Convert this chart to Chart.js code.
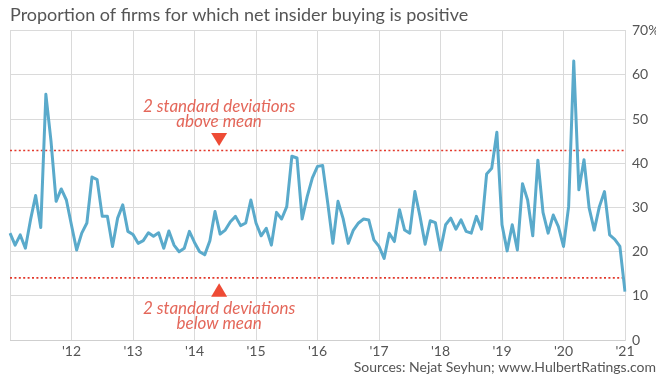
<!DOCTYPE html>
<html>
<head>
<meta charset="utf-8">
<script src="https://cdn.jsdelivr.net/npm/chart.js@4/dist/chart.umd.min.js"></script>
<style>
  body { margin: 0; background: #fff; }
  #wrap { width: 661px; height: 377px; }
</style>
</head>
<body>
<div id="wrap"><canvas id="chart"></canvas></div>
<script>
// monthly share of firms with positive net insider buying, Jan 2011 .. Jan 2021 (%)
const netBuying = [
  24.2, 21.5, 23.8, 20.8, 27.2, 32.7, 25.5, 55.6, 45.0, 31.4, 34.2, 31.7,
  26.0, 20.4, 24.2, 26.5, 36.9, 36.3, 28.0, 28.0, 21.2, 27.6, 30.6, 24.6,
  23.9, 21.9, 22.5, 24.3, 23.5, 24.3, 20.8, 24.7, 21.5, 20.0, 20.8, 24.6,
  22.1, 20.0, 19.3, 22.5, 29.1, 24.0, 24.9, 26.8, 28.0, 25.9, 26.5, 31.7,
  26.5, 23.6, 25.3, 21.5, 28.9, 27.4, 30.2, 41.6, 41.2, 27.4, 32.5, 36.7,
  39.3, 39.5, 31.0, 21.9, 31.4, 27.5, 21.9, 24.9, 26.5, 27.4, 27.2, 22.7,
  21.2, 18.5, 24.2, 22.3, 29.5, 24.9, 24.2, 33.6, 28.0, 21.7, 27.0, 26.6,
  20.4, 26.1, 27.6, 25.1, 27.2, 24.6, 24.2, 28.0, 25.1, 37.6, 38.9, 47.0,
  26.1, 20.2, 26.1, 20.4, 35.4, 31.7, 23.6, 40.7, 28.9, 24.2, 28.3, 25.7,
  21.2, 30.2, 63.1, 34.0, 40.8, 29.9, 24.9, 30.2, 33.6, 23.8, 22.8, 21.2,
  11.0
];

// mean +/- 2 standard deviations
const upperBand = 42.9;
const lowerBand = 14.1;

const yTicks = [0, 10, 20, 30, 40, 50, 60, 70];
const noteMonth = "2014-06";

const firstYear = 2011;
const months = [];
for (let i = 0; i < netBuying.length; i++) {
  const y = firstYear + Math.floor(i / 12);
  const m = (i % 12) + 1;
  months.push(y + "-" + (m < 10 ? "0" + m : m));
}

const isJan = (i) => months[i].endsWith("-01");

const RED_LINE = "#e2392c";
const RED_MARK = "#ee4b35";
const RED_TEXT = "#e4675a";
const GRID = "#dadada";
const TEXT = "#555";

// triangles + captions for the two bands
const bandNotes = {
  id: "bandNotes",
  afterDatasetsDraw(chart) {
    const ctx = chart.ctx;
    const x = chart.scales.x.getPixelForValue(months.indexOf(noteMonth)) - 1;
    const yU = chart.scales.y.getPixelForValue(upperBand);
    const yL = chart.scales.y.getPixelForValue(lowerBand);

    ctx.save();
    ctx.fillStyle = RED_MARK;
    ctx.beginPath();
    ctx.moveTo(x - 8, yU - 17.5);
    ctx.lineTo(x + 8, yU - 17.5);
    ctx.lineTo(x, yU - 4.5);
    ctx.closePath();
    ctx.fill();

    ctx.beginPath();
    ctx.moveTo(x - 8, yL + 19);
    ctx.lineTo(x + 8, yL + 19);
    ctx.lineTo(x, yL + 5.5);
    ctx.closePath();
    ctx.fill();

    ctx.fillStyle = RED_TEXT;
    ctx.font = "italic 17px Lato";
    ctx.textAlign = "center";
    ctx.textBaseline = "middle";
    ctx.fillText("2 standard deviations", x, yU - 44);
    ctx.fillText("above mean", x, yU - 29);
    ctx.fillText("2 standard deviations", x, yL + 31);
    ctx.fillText("below mean", x, yL + 46);
    ctx.restore();
  },
};

const ctx = document.getElementById("chart").getContext("2d");
new Chart(ctx, {
  type: "line",
  data: {
    labels: months,
    datasets: [
      {
        label: "Net insider buying",
        data: netBuying,
        borderColor: "#5aaacb",
        borderWidth: 3,
        borderJoinStyle: "round",
        pointRadius: 0,
        tension: 0,
        fill: false,
        order: 1,
      },
      {
        label: "Upper band",
        data: [
          { x: months[0], y: upperBand },
          { x: months[months.length - 1], y: upperBand },
        ],
        borderColor: RED_LINE,
        borderWidth: 1.6,
        borderDash: [2, 2.4],
        pointRadius: 0,
        order: 2,
      },
      {
        label: "Lower band",
        data: [
          { x: months[0], y: lowerBand },
          { x: months[months.length - 1], y: lowerBand },
        ],
        borderColor: RED_LINE,
        borderWidth: 1.6,
        borderDash: [2, 2.4],
        pointRadius: 0,
        order: 2,
      },
    ],
  },
  options: {
    responsive: true,
    maintainAspectRatio: false,
    animation: false,
    layout: { padding: { top: 4, left: 10, right: 5, bottom: 1 } },
    plugins: {
      legend: { display: false },
      tooltip: { enabled: false },
      title: {
        display: true,
        text: "Proportion of firms for which net insider buying is positive",
        align: "start",
        color: TEXT,
        font: { family: "Lato", size: 18, weight: "normal" },
        padding: { top: 0, bottom: 5 },
      },
      subtitle: {
        display: true,
        position: "bottom",
        align: "end",
        text: "Sources: Nejat Seyhun; www.HulbertRatings.com",
        color: TEXT,
        font: { family: "Lato", size: 14 },
        padding: 0,
      },
    },
    scales: {
      x: {
        type: "category",
        offset: false,
        grid: {
          drawTicks: false,
          color: (c) => (c.index !== undefined && isJan(c.index) ? GRID : "rgba(0,0,0,0)"),
        },
        border: { color: "#cfcfcf" },
        ticks: {
          autoSkip: false,
          maxRotation: 0,
          padding: 3,
          color: TEXT,
          font: { family: "Lato", size: 14 },
          callback: (v, i) => (isJan(i) && i > 0 ? "'" + months[i].slice(2, 4) : ""),
        },
        afterFit: (scale) => {
          scale.height = 19;
        },
      },
      y: {
        position: "right",
        min: 0,
        max: 70,
        afterBuildTicks: (scale) => {
          scale.ticks = yTicks.map((v) => ({ value: v }));
        },
        grid: { drawTicks: false, color: GRID },
        border: { color: GRID },
        ticks: {
          padding: 7,
          color: TEXT,
          font: { family: "Lato", size: 14 },
          callback: (v) => (v === 70 ? v + "%" : String(v)),
        },
        afterFit: (scale) => {
          scale.width = 31;
        },
      },
    },
  },
  plugins: [bandNotes],
});
</script>
</body>
</html>
